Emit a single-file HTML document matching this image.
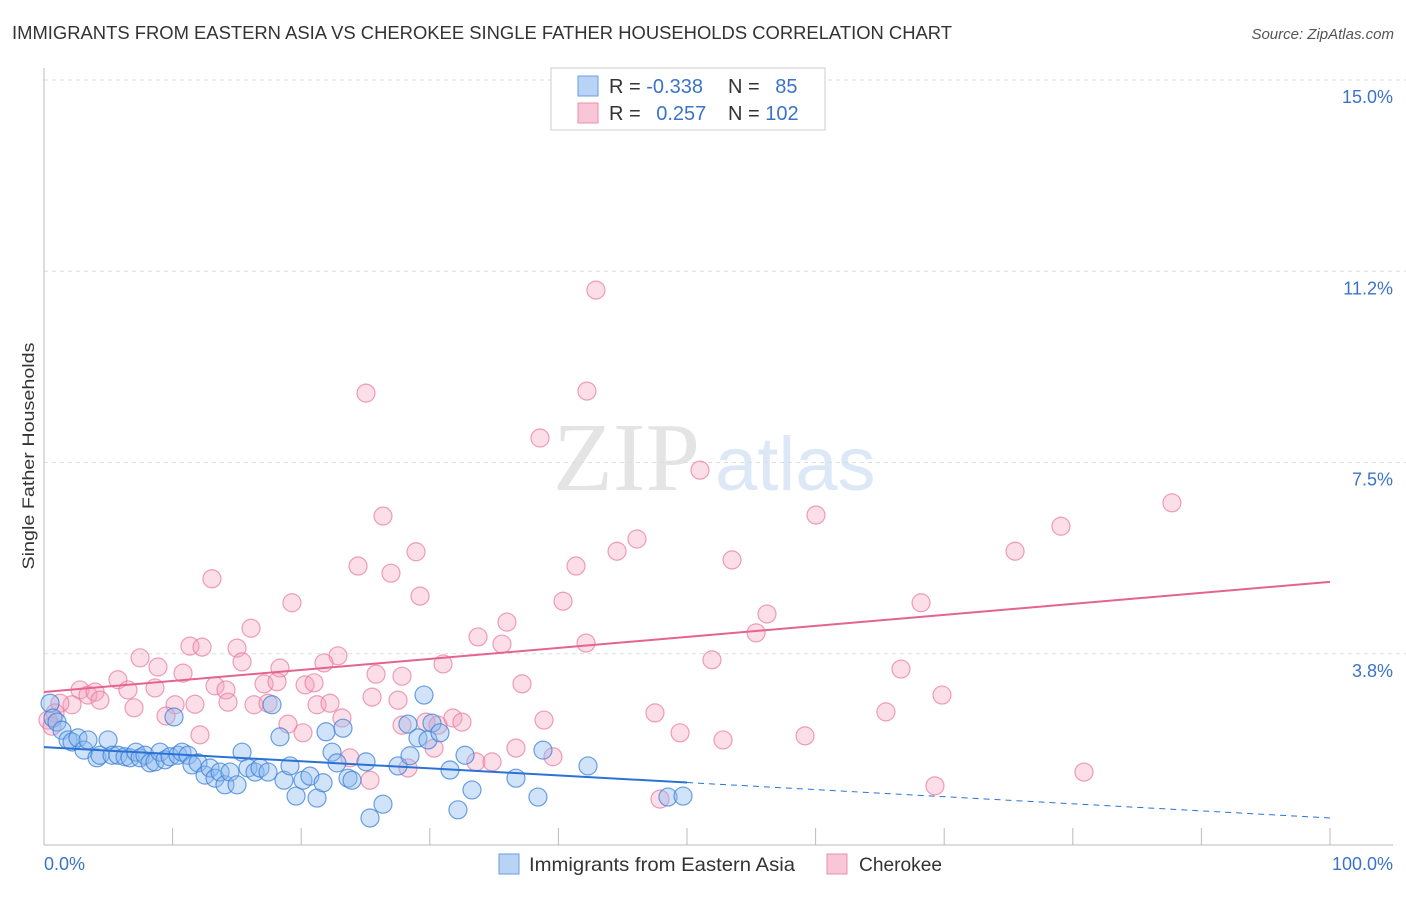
<!DOCTYPE html>
<html><head><meta charset="utf-8"><style>
body{margin:0;background:#fff;font-family:"Liberation Sans",sans-serif;}
</style></head><body>
<svg id="chart" width="1406" height="892" xmlns="http://www.w3.org/2000/svg" font-family="Liberation Sans, sans-serif">
<text x="12" y="39" font-size="18" fill="#333" textLength="940" lengthAdjust="spacingAndGlyphs">IMMIGRANTS FROM EASTERN ASIA VS CHEROKEE SINGLE FATHER HOUSEHOLDS CORRELATION CHART</text>
<text x="1394" y="39" font-size="15" fill="#555" font-style="italic" text-anchor="end">Source: ZipAtlas.com</text>
<g>
<text x="553" y="490" font-size="98" font-family="Liberation Serif, serif" fill="#e4e4e4">ZIP</text>
<text x="715" y="490" font-size="76" fill="#dce8f5">atlas</text>
</g>
<g id="grid"></g>
<g id="axes"></g>
<g id="marks"></g>
<g id="trends"></g>
<text transform="translate(34,456) rotate(-90)" font-size="17" fill="#333" text-anchor="middle" textLength="227" lengthAdjust="spacingAndGlyphs">Single Father Households</text>
<text x="44" y="870" font-size="18" fill="#3b73c8">0.0%</text>
<text x="1393" y="870" font-size="18" fill="#3b73c8" text-anchor="end">100.0%</text>
<g>
<rect x="551" y="68" width="274" height="62" fill="#fff" stroke="#ccc"/>
<rect x="578" y="76" width="20" height="20" fill="#b8d3f5" stroke="#6b9ee0"/>
<rect x="578" y="103" width="20" height="20" fill="#f8c6d6" stroke="#e890ac"/>
<text x="609" y="93" font-size="20" fill="#333">R = <tspan fill="#3b73c8">-0.338</tspan></text>
<text x="728" y="93" font-size="20" fill="#333">N = <tspan fill="#3b73c8" dx="10">85</tspan></text>
<text x="609" y="120" font-size="20" fill="#333">R = <tspan fill="#3b73c8" dx="10">0.257</tspan></text>
<text x="728" y="120" font-size="20" fill="#333">N = <tspan fill="#3b73c8">102</tspan></text>
</g>
<g>
<rect x="499" y="854" width="20" height="20" fill="#b8d3f5" stroke="#6b9ee0"/>
<text x="529" y="871" font-size="19.5" fill="#333" textLength="266" lengthAdjust="spacingAndGlyphs">Immigrants from Eastern Asia</text>
<rect x="827" y="854" width="20" height="20" fill="#f8c6d6" stroke="#e890ac"/>
<text x="859" y="871" font-size="19.5" fill="#333" textLength="83" lengthAdjust="spacingAndGlyphs">Cherokee</text>
</g>
</svg>
<script>
const yTicks=[3.75,7.5,11.25,15];
const yTickLabels=["3.8%","7.5%","11.2%","15.0%"];
const xTicks=[0,10,20,30,40,50,60,70,80,90,100];
const blueX=[0.47,0.70,1.01,1.40,1.87,2.18,2.64,3.11,3.42,4.12,4.35,4.98,5.29,5.75,6.30,6.69,7.15,7.47,7.85,8.24,8.63,9.02,9.41,9.80,10.11,10.42,10.73,11.20,11.51,11.98,12.52,12.91,13.30,13.69,14.07,14.46,15.01,15.40,15.86,16.41,16.80,17.42,17.73,18.35,18.66,19.13,19.60,20.14,20.68,21.23,21.70,21.93,22.40,22.78,23.25,23.64,23.95,25.04,25.35,26.36,27.53,28.30,28.46,29.08,29.55,29.86,30.17,30.79,31.57,32.19,32.74,33.28,36.70,38.41,38.80,42.30,48.52,49.69];
const blueY=[2.78,2.49,2.41,2.25,2.06,2.02,2.10,1.86,2.06,1.71,1.76,2.06,1.76,1.76,1.73,1.71,1.82,1.71,1.76,1.61,1.63,1.82,1.67,1.73,2.51,1.76,1.82,1.76,1.57,1.61,1.37,1.51,1.31,1.43,1.18,1.43,1.18,1.82,1.51,1.43,1.51,1.43,2.75,2.12,1.27,1.55,0.96,1.27,1.35,0.92,1.22,2.22,1.82,1.61,2.29,1.31,1.27,1.63,0.53,0.80,1.55,2.37,1.75,2.10,2.94,2.06,2.39,2.20,1.47,0.69,1.76,1.08,1.31,0.94,1.86,1.55,0.94,0.96];
const pinkX=[42.92,25.04,42.22,38.57,51.01,87.71,60.03,79.08,26.36,28.93,44.56,46.11,75.51,53.50,24.42,26.98,41.37,13.06,29.24,40.36,19.28,56.22,68.20,36.00,16.10,33.75,55.37,35.61,42.15,11.35,12.29,15.01,7.47,8.86,15.40,22.86,21.77,31.03,51.94,66.64,10.81,18.35,25.82,27.84,5.75,6.53,8.63,13.30,14.15,17.11,18.12,20.30,21.00,37.17,69.83,2.80,3.42,3.97,4.35,2.18,1.24,0.86,0.31,0.62,11.74,10.19,14.31,16.33,17.42,21.23,22.24,25.51,27.53,7.00,9.49,18.97,23.17,27.84,29.70,30.64,31.80,32.50,38.88,47.51,65.47,12.13,20.14,30.33,33.59,34.84,36.70,39.58,49.46,52.80,59.18,23.79,28.30,80.87,69.28,47.90,25.35];
const pinkY=[10.88,8.86,8.90,7.98,7.35,6.71,6.47,6.25,6.45,5.75,5.76,6.00,5.76,5.59,5.47,5.33,5.47,5.22,4.88,4.78,4.75,4.53,4.75,4.37,4.25,4.08,4.16,3.94,3.96,3.90,3.88,3.86,3.67,3.49,3.59,3.71,3.57,3.55,3.63,3.45,3.37,3.47,3.35,3.31,3.24,3.04,3.08,3.12,3.04,3.16,3.20,3.14,3.18,3.16,2.94,3.04,2.94,3.00,2.84,2.75,2.78,2.59,2.45,2.33,2.76,2.75,2.80,2.75,2.78,2.75,2.78,2.90,2.84,2.69,2.53,2.37,2.49,2.35,2.41,2.35,2.49,2.41,2.45,2.59,2.61,2.16,2.20,1.90,1.63,1.63,1.90,1.73,2.20,2.06,2.14,1.71,1.51,1.43,1.16,0.90,1.27];
const blueTrend=[1.92,0.53];
const pinkTrend=[3.0,5.16];
const blueSolidEnd=50;
const NS="http://www.w3.org/2000/svg";
function sx(v){return 44+v*12.86;}
function sy(v){return 845-v*51;}
function mk(tag,attrs,parent){const e=document.createElementNS(NS,tag);for(const k in attrs)e.setAttribute(k,attrs[k]);parent.appendChild(e);return e;}
const grid=document.getElementById('grid'),axes=document.getElementById('axes'),marks=document.getElementById('marks'),trends=document.getElementById('trends');
yTicks.forEach((t,i)=>{
  const l=mk('line',{x1:44,x2:1420,y1:sy(t),y2:sy(t),stroke:'#ddd','stroke-dasharray':'4,4'},grid);
  
  
  const tx=mk('text',{x:1393,y:sy(t)+23,'font-size':18,fill:'#3b73c8','text-anchor':'end'},grid);
  tx.textContent=yTickLabels[i];
  
  
});
const ya=mk('line',{x1:44,x2:44,y1:68,y2:845,stroke:'#bbb'},axes);


const xa=mk('line',{x1:44,x2:1393,y1:845,y2:845,stroke:'#bbb'},axes);


xTicks.forEach(t=>{
  const l=mk('line',{x1:sx(t),x2:sx(t),y1:828,y2:845,stroke:'#bbb'},axes);
  
  
});
pinkX.forEach((x,i)=>{
  const c=mk('circle',{cx:sx(x),cy:sy(pinkY[i]),r:9,fill:'rgba(244,160,188,0.35)',stroke:'rgba(232,120,155,0.7)','stroke-width':1.2},marks);
  
  
});
blueX.forEach((x,i)=>{
  const c=mk('circle',{cx:sx(x),cy:sy(blueY[i]),r:9,fill:'rgba(140,185,240,0.4)',stroke:'rgba(60,130,215,0.75)','stroke-width':1.2},marks);
  
  
});
function ty(tr,x){return tr[0]+(tr[1]-tr[0])*x/100;}
const bl=mk('line',{x1:sx(0),y1:sy(ty(blueTrend,0)),x2:sx(blueSolidEnd),y2:sy(ty(blueTrend,blueSolidEnd)),stroke:'#2a72d6','stroke-width':2},trends);


const bd=mk('line',{x1:sx(blueSolidEnd),y1:sy(ty(blueTrend,blueSolidEnd)),x2:sx(100),y2:sy(ty(blueTrend,100)),stroke:'#2a72d6','stroke-width':1,'stroke-dasharray':'6,5'},trends);


const pl=mk('line',{x1:sx(0),y1:sy(ty(pinkTrend,0)),x2:sx(100),y2:sy(ty(pinkTrend,100)),stroke:'#e5638f','stroke-width':2},trends);


</script>
</body></html>
